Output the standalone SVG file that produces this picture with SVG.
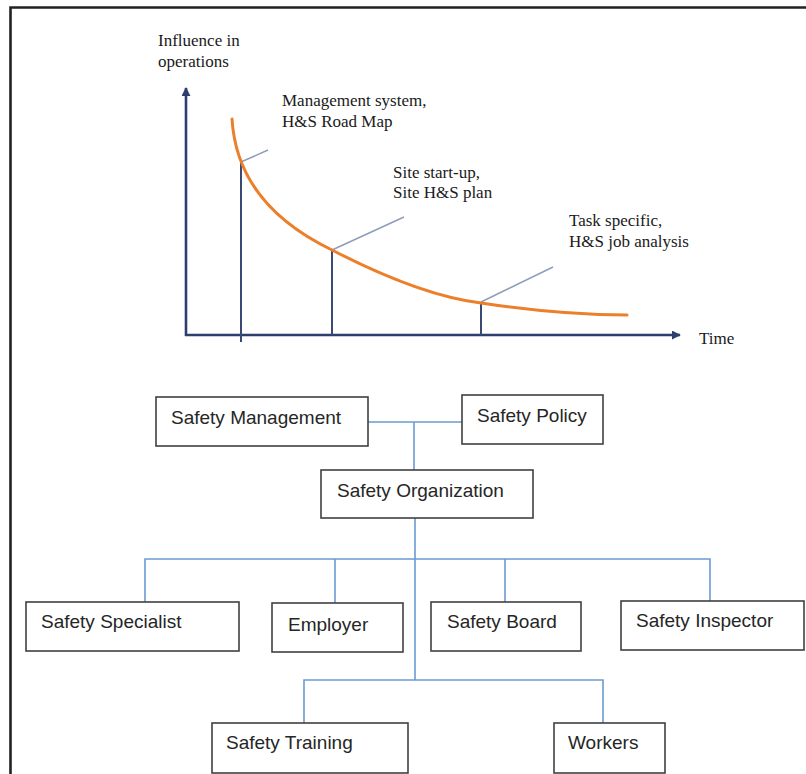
<svg xmlns="http://www.w3.org/2000/svg" width="806" height="774" viewBox="0 0 806 774">
<defs>
<style>
.axis{stroke:#2E3F6E;stroke-width:2.6;fill:none}
.tick{stroke:#3A4A75;stroke-width:2;fill:none}
.lead{stroke:#8D9DBC;stroke-width:1.5;fill:none}
.curve{stroke:#EC7F2A;stroke-width:3;fill:none;stroke-linecap:round}
.ct{font-family:"Liberation Serif","Times New Roman",serif;font-size:17px;fill:#1a1a1a}
.box{fill:#ffffff;stroke:#404040;stroke-width:1.6}
.bt{font-family:"Liberation Sans",Arial,sans-serif;font-size:19px;fill:#262626}
.conn{stroke:#6A9BD1;stroke-width:1.6;fill:none}
</style>
<marker id="arr" viewBox="0 0 10 10" refX="9" refY="5" markerWidth="9" markerHeight="9" markerUnits="userSpaceOnUse" orient="auto">
<path d="M0,0 L10,5 L0,10 Z" fill="#2E3F6E"/>
</marker>
</defs>
<rect width="806" height="774" fill="#ffffff"/>
<path d="M10.5,774 L10.5,7.5 L806,7.5" fill="none" stroke="#222222" stroke-width="2.6"/>

<g id="chart">
<line class="axis" x1="186" y1="336" x2="186" y2="88" marker-end="url(#arr)"/>
<line class="axis" x1="185" y1="335" x2="680" y2="335" marker-end="url(#arr)"/>
<line class="tick" x1="241" y1="162" x2="241" y2="342"/>
<line class="tick" x1="332" y1="250" x2="332" y2="335"/>
<line class="tick" x1="481" y1="302" x2="481" y2="335"/>
<line class="lead" x1="241" y1="162" x2="268" y2="150"/>
<line class="lead" x1="332" y1="250" x2="404" y2="217"/>
<line class="lead" x1="481" y1="302" x2="553" y2="267"/>
<path class="curve" d="M232,119 C236,185 280,225 332,250 C390,280 440,298 481,303 C540,312 580,315 627,315"/>
<text class="ct" x="158" y="46">Influence in</text>
<text class="ct" x="158" y="67">operations</text>
<text class="ct" x="282" y="106">Management system,</text>
<text class="ct" x="282" y="127">H&amp;S Road Map</text>
<text class="ct" x="393" y="178">Site start-up,</text>
<text class="ct" x="393" y="198">Site H&amp;S plan</text>
<text class="ct" x="569" y="226">Task specific,</text>
<text class="ct" x="569" y="247">H&amp;S job analysis</text>
<text class="ct" x="699" y="344">Time</text>
</g>

<g id="connectors">
<path class="conn" d="M368,422 L462,422"/>
<path class="conn" d="M414,422 L414,470"/>
<path class="conn" d="M415,518 L415,680"/>
<path class="conn" d="M145,602 L145,559 L710,559 L710,601"/>
<path class="conn" d="M335,559 L335,603"/>
<path class="conn" d="M505,559 L505,602"/>
<path class="conn" d="M304,723 L304,680 L603,680 L603,723"/>
</g>

<g id="node-safety-management"><rect class="box" x="156" y="397" width="212" height="49"/><text class="bt" x="171" y="424">Safety Management</text></g>
<g id="node-safety-policy"><rect class="box" x="462" y="395" width="141" height="49"/><text class="bt" x="477" y="422">Safety Policy</text></g>
<g id="node-safety-organization"><rect class="box" x="321" y="470" width="212" height="48"/><text class="bt" x="337" y="497">Safety Organization</text></g>
<g id="node-safety-specialist"><rect class="box" x="26" y="602" width="213" height="49"/><text class="bt" x="41" y="628">Safety Specialist</text></g>
<g id="node-employer"><rect class="box" x="272" y="603" width="131" height="49"/><text class="bt" x="288" y="631">Employer</text></g>
<g id="node-safety-board"><rect class="box" x="431" y="602" width="150" height="49"/><text class="bt" x="447" y="628">Safety Board</text></g>
<g id="node-safety-inspector"><rect class="box" x="621" y="601" width="183" height="49"/><text class="bt" x="636" y="627">Safety Inspector</text></g>
<g id="node-safety-training"><rect class="box" x="212" y="723" width="196" height="50"/><text class="bt" x="226" y="749">Safety Training</text></g>
<g id="node-workers"><rect class="box" x="554" y="723" width="111" height="50"/><text class="bt" x="568" y="749">Workers</text></g>
</svg>
